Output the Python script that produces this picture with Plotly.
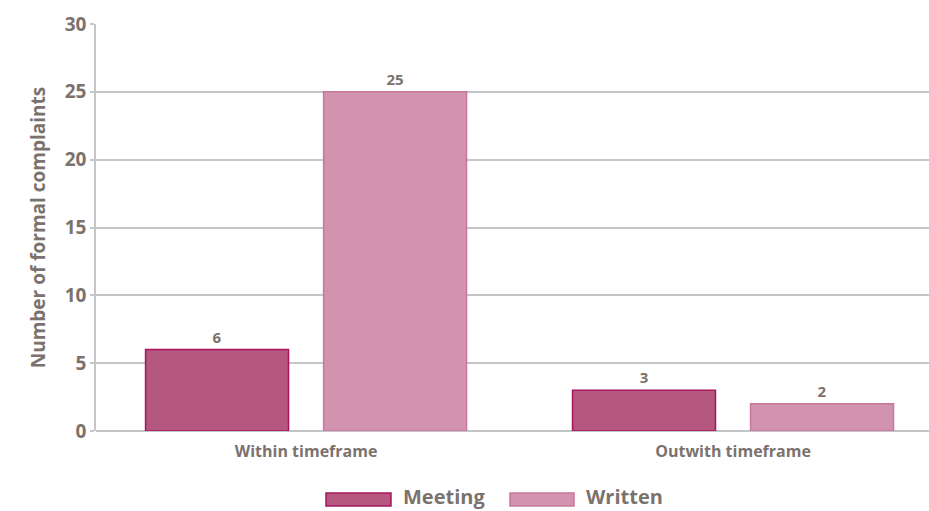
import plotly.graph_objects as go

categories = ["Within timeframe", "Outwith timeframe"]
series_names = ["Meeting", "Written"]
meeting = [6, 3]
written = [25, 2]
y_ticks = [0, 5, 10, 15, 20, 25, 30]

fills = ["#b5577e", "#d193ae"]
borders = ["#a8145f", "#c8779d"]
grey = "#7b726d"
font = "Open Sans"

fig = go.Figure()
for name, vals, fc, bc in zip(series_names, [meeting, written], fills, borders):
    fig.add_trace(go.Bar(
        x=categories, y=vals, name=name,
        marker=dict(color=fc, line=dict(color=bc, width=1.5)),
        text=[str(v) for v in vals], textposition="outside",
        textfont=dict(family=font, size=15, color=grey, weight="bold"),
        cliponaxis=False,
    ))

fig.update_layout(
    width=929, height=511,
    margin=dict(l=96, r=0, t=24, b=80),
    plot_bgcolor="white", paper_bgcolor="white",
    barmode="group", bargap=0.166, bargroupgap=0.197,
    showlegend=False,
    font=dict(family=font, color=grey),
)
fig.update_xaxes(
    range=[-0.492, 1.459],
    tickfont=dict(family=font, size=16, color=grey, weight="bold"),
    showline=False, showgrid=False, ticks="", ticklabelstandoff=9,
)
fig.update_yaxes(
    range=[0, 30], tickvals=y_ticks,
    tickfont=dict(family=font, size=19, color=grey, weight="bold"),
    showgrid=True, gridcolor="#c3c7c9", gridwidth=1.5,
    showline=True, linecolor="#c3c7c9", linewidth=1.5,
    ticks="outside", ticklen=4, tickcolor="#c3c7c9", tickwidth=1.5,
    zeroline=True, zerolinecolor="#c3c7c9", zerolinewidth=1.5,
    title=dict(text="Number of formal complaints",
               font=dict(family=font, size=19, color=grey, weight="bold"),
               standoff=14),
)

# custom legend swatches
legend_x = [(326, 391), (510, 574)]
for (x0, x1), name, fc, bc in zip(legend_x, series_names, fills, borders):
    fig.add_shape(type="rect", xref="paper", yref="paper",
                  x0=(x0 - 96) / 833, x1=(x1 - 96) / 833,
                  y0=(431 - 506) / 407, y1=(431 - 493) / 407,
                  fillcolor=fc, line=dict(color=bc, width=1.5))
    fig.add_annotation(text=name, xref="paper", yref="paper",
                       x=(x1 + 10 - 96) / 833, y=(431 - 496) / 407,
                       xanchor="left", yanchor="middle", showarrow=False,
                       font=dict(family=font, size=20, color=grey, weight="bold"))

fig.write_html("out.html")
